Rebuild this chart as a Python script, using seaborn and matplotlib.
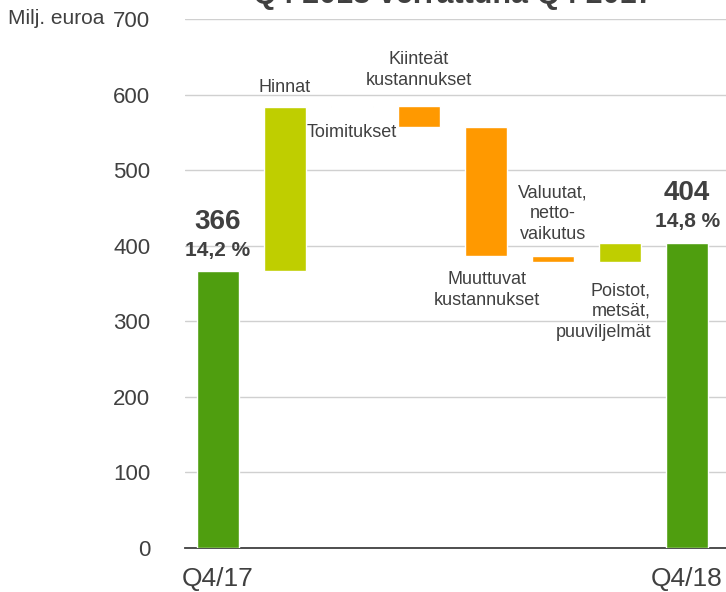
import matplotlib
matplotlib.use("Agg")
import matplotlib.pyplot as plt
import pandas as pd
import seaborn as sns

# data (Milj. euroa)
categories = ["Q4/17", "Hinnat", "Toimitukset", "Kiinteät kustannukset",
              "Muuttuvat kustannukset", "Valuutat", "Poistot", "Q4/18"]
changes = [366, 218, 1, -28, -171, -8, 26, 404]
is_total = [True, False, False, False, False, False, False, True]
margins = ["14,2 %", None, None, None, None, None, None, "14,8 %"]
bar_labels = [None, "Hinnat", "Toimitukset", "Kiinteät\nkustannukset",
              "Muuttuvat\nkustannukset", "Valuutat,\nnetto-\nvaikutus",
              "Poistot,\nmetsät,\npuuviljelmät", None]
xtick_labels = ["Q4/17", "", "", "", "", "", "", "Q4/18"]
yticks = [0, 100, 200, 300, 400, 500, 600, 700]

GREEN = "#4F9E0F"
LIME = "#BFCE00"
ORANGE = "#FF9900"
TXT = "#404040"

# waterfall bottoms / heights
bottoms, heights, colors = [], [], []
running = 0
for c, tot in zip(changes, is_total):
    if tot:
        bottoms.append(0)
        heights.append(c)
        colors.append(GREEN)
        running = c
    else:
        new = running + c
        bottoms.append(min(running, new))
        heights.append(abs(c))
        colors.append(LIME if c > 0 else ORANGE)
        running = new
tops = [b + h for b, h in zip(bottoms, heights)]

df = pd.DataFrame({"cat": categories, "height": heights})

sns.set_style("white")
plt.rcParams["font.family"] = ["Liberation Sans", "DejaVu Sans"]

fig = plt.figure(figsize=(7.26, 5.92), dpi=100)
ax = fig.add_axes([185 / 726, 44 / 592, 541 / 726, 529 / 592])

sns.barplot(data=df, x="cat", y="height", order=categories, width=0.63,
            color=GREEN, edgecolor="white", linewidth=1, ax=ax, zorder=3)
for p, b, col in zip(ax.patches, bottoms, colors):
    p.set_y(b)
    p.set_facecolor(col)

ax.set_xlim(-0.49, 7.58)
ax.set_ylim(0, 700)
ax.set_yticks(yticks)
ax.yaxis.grid(True, color="#D0D0D0", linewidth=1)
ax.set_axisbelow(True)
for s in ["top", "right", "left"]:
    ax.spines[s].set_visible(False)
ax.spines["bottom"].set_color("#404040")
ax.spines["bottom"].set_linewidth(1.3)
ax.tick_params(axis="y", length=0, labelsize=16, labelcolor=TXT, pad=25)
ax.tick_params(axis="x", length=0, labelsize=19, labelcolor=TXT, pad=14)
ax.set_xticks(range(len(categories)))
ax.set_xticklabels(xtick_labels)
ax.set_xlabel("")
ax.set_ylabel("")

fig.text(8 / 726, 1 - 19 / 592, "Milj. euroa", fontsize=15, color=TXT,
         ha="left", va="center")
fig.text(453 / 726, 1 - 3 / 592, "Q4 2018 verrattuna Q4 2017", fontsize=22,
         fontweight="bold", color=TXT, ha="center", va="baseline")

# totals
for i, (tot, m) in enumerate(zip(is_total, margins)):
    if tot:
        ax.text(i, tops[i] + 66, str(changes[i]), ha="center", va="center",
                fontsize=20, fontweight="bold", color=TXT)
        ax.text(i, tops[i] + 28, m, ha="center", va="center",
                fontsize=15, fontweight="bold", color=TXT)

# category labels
label_pos = {1: (1, tops[1] + 26, "center"),
             2: (2, tops[2] - 35, "center"),
             3: (3, tops[3] + 47, "center"),
             4: (4.02, bottoms[4] - 45, "center"),
             5: (5, tops[5] + 56, "center"),
             6: (6.46, bottoms[6] - 65, "right")}
for i, (x, y, ha) in label_pos.items():
    ax.text(x, y, bar_labels[i], ha=ha, va="center", fontsize=13,
            color=TXT, linespacing=1.3, multialignment=ha)

fig.savefig("out.png", dpi=100)
